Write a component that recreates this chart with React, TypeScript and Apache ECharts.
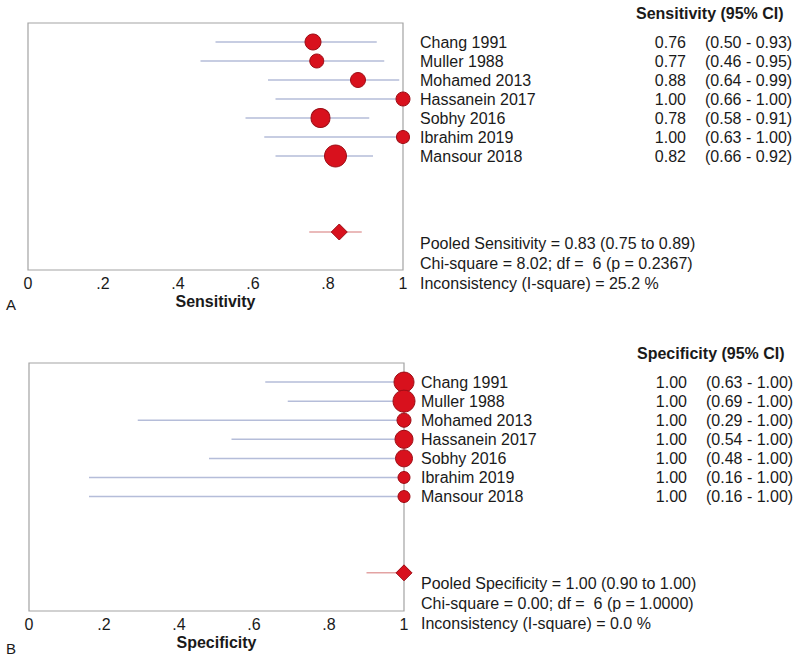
import React, { useEffect, useRef } from "react";
import * as echarts from "echarts";

const studies = ["Chang 1991", "Muller 1988", "Mohamed 2013", "Hassanein 2017", "Sobhy 2016", "Ibrahim 2019", "Mansour 2018"];

const sensEst = [0.76, 0.77, 0.88, 1.0, 0.78, 1.0, 0.82];
const sensLo = [0.5, 0.46, 0.64, 0.66, 0.58, 0.63, 0.66];
const sensHi = [0.93, 0.95, 0.99, 1.0, 0.91, 1.0, 0.92];
const sensWeight = [64, 49, 56, 49, 90, 42, 121];
const sensPooled = [0.83, 0.75, 0.89];
const sensHeader = "Sensitivity (95% CI)";
const sensStats = [
  "Pooled Sensitivity = 0.83 (0.75 to 0.89)",
  "Chi-square = 8.02; df =  6 (p = 0.2367)",
  "Inconsistency (I-square) = 25.2 %",
];

const specEst = [1.0, 1.0, 1.0, 1.0, 1.0, 1.0, 1.0];
const specLo = [0.63, 0.69, 0.29, 0.54, 0.48, 0.16, 0.16];
const specHi = [1.0, 1.0, 1.0, 1.0, 1.0, 1.0, 1.0];
const specWeight = [100, 121, 49, 81, 72, 36, 36];
const specPooled = [1.0, 0.9, 1.0];
const specHeader = "Specificity (95% CI)";
const specStats = [
  "Pooled Specificity = 1.00 (0.90 to 1.00)",
  "Chi-square = 0.00; df =  6 (p = 1.0000)",
  "Inconsistency (I-square) = 0.0 %",
];

const xTicks = [0, 0.2, 0.4, 0.6, 0.8, 1];
const pooledRow = 10;

const FONT = "'Liberation Sans', Arial, Helvetica, sans-serif";
const RED = "#d8111d";
const RED_BORDER = "#9c0d15";
const CI_COLOR = "#b5bdd9";
const POOL_CI = "#e3a3a3";
const TEXT = "#1a1a1a";

function txt(x: number, y: number, text: string, align: string, bold = false) {
  return {
    type: "text",
    x,
    y,
    style: {
      text,
      fill: TEXT,
      font: `${bold ? "bold " : ""}16px ${FONT}`,
      fontSize: 16,
      fontFamily: FONT,
      fontWeight: bold ? "bold" : "normal",
      align,
      textAlign: align,
      verticalAlign: "middle",
      textVerticalAlign: "middle",
    },
  };
}

function panelSeries(
  gi: number,
  est: number[],
  lo: number[],
  hi: number[],
  weight: number[],
  pooled: number[],
  header: string,
  stats: string[]
) {
  const ciData = lo.map((l, i) => [l, hi[i], i]);
  return [
    {
      type: "custom",
      xAxisIndex: gi,
      yAxisIndex: gi,
      clip: false,
      encode: { x: [0, 1], y: 2 },
      data: ciData,
      renderItem: (params: any, api: any) => {
        const a = api.coord([api.value(0), api.value(2)]);
        const b = api.coord([api.value(1), api.value(2)]);
        return {
          type: "line",
          shape: { x1: a[0], y1: a[1], x2: b[0], y2: b[1] },
          style: { stroke: CI_COLOR, lineWidth: 1.5 },
        };
      },
      z: 1,
    },
    {
      type: "custom",
      xAxisIndex: gi,
      yAxisIndex: gi,
      clip: false,
      encode: { x: [0, 1], y: 2 },
      data: [[pooled[1], pooled[2], pooledRow]],
      renderItem: (params: any, api: any) => {
        const a = api.coord([api.value(0), api.value(2)]);
        const b = api.coord([api.value(1), api.value(2)]);
        return {
          type: "line",
          shape: { x1: a[0], y1: a[1], x2: b[0], y2: b[1] },
          style: { stroke: POOL_CI, lineWidth: 1.5 },
        };
      },
      z: 1,
    },
    {
      type: "scatter",
      xAxisIndex: gi,
      yAxisIndex: gi,
      clip: false,
      data: est.map((e, i) => [e, i, weight[i]]),
      symbol: "circle",
      symbolSize: (v: number[]) => 2 * Math.sqrt(v[2]),
      itemStyle: { color: RED, borderColor: RED_BORDER, borderWidth: 1, opacity: 1 },
      z: 3,
    },
    {
      type: "scatter",
      xAxisIndex: gi,
      yAxisIndex: gi,
      clip: false,
      data: [[pooled[0], pooledRow]],
      symbol: "diamond",
      symbolSize: [16, 16],
      itemStyle: { color: RED, borderColor: RED_BORDER, borderWidth: 1, opacity: 1 },
      z: 3,
    },
    {
      type: "custom",
      xAxisIndex: gi,
      yAxisIndex: gi,
      clip: false,
      encode: { y: 0 },
      data: studies.map((s, i) => [i]),
      renderItem: (params: any, api: any) => {
        const i = api.value(0);
        const p = api.coord([1, i]);
        const x0 = p[0];
        return {
          type: "group",
          children: [
            txt(x0 + 17, p[1], studies[i], "left"),
            txt(x0 + 283, p[1], est[i].toFixed(2), "right"),
            txt(x0 + 302, p[1], `(${lo[i].toFixed(2)} - ${hi[i].toFixed(2)})`, "left"),
          ],
        };
      },
    },
    {
      type: "custom",
      xAxisIndex: gi,
      yAxisIndex: gi,
      clip: false,
      encode: { y: 0 },
      data: [[-1.5]],
      renderItem: (params: any, api: any) => {
        const p = api.coord([1, api.value(0)]);
        return txt(p[0] + 233, p[1], header, "left", true);
      },
    },
    {
      type: "custom",
      xAxisIndex: gi,
      yAxisIndex: gi,
      clip: false,
      encode: { y: 0 },
      data: [[pooledRow]],
      renderItem: (params: any, api: any) => {
        const p = api.coord([1, api.value(0)]);
        return {
          type: "group",
          children: stats.map((s, k) => txt(p[0] + 17, p[1] + 11 + k * 20, s, "left")),
        };
      },
    },
  ];
}

function xAxisFor(gi: number, name: string) {
  return {
    type: "value",
    gridIndex: gi,
    min: 0,
    max: 1,
    interval: 0.2,
    name,
    nameLocation: "middle",
    nameGap: 23,
    nameTextStyle: { fontFamily: FONT, fontSize: 16, fontWeight: "bold", color: TEXT, verticalAlign: "top" },
    axisLine: { show: false },
    axisTick: { show: false },
    splitLine: { show: false },
    axisLabel: {
      margin: 5,
      fontFamily: FONT,
      fontSize: 16,
      color: TEXT,
      formatter: (v: number) => {
        const t = xTicks.find((k) => Math.abs(k - v) < 1e-6);
        if (t === undefined) return "";
        if (t === 0) return "0";
        if (t === 1) return "1";
        return t.toFixed(1).replace(/^0/, "");
      },
    },
  };
}

function yAxisFor(gi: number) {
  return { type: "value", gridIndex: gi, min: -1, max: 12, inverse: true, show: false };
}

export default function App() {
  const ref = useRef<HTMLDivElement>(null);
  useEffect(() => {
    if (!ref.current) return;
    const chart = echarts.init(ref.current, undefined, { renderer: "svg" });
    chart.setOption({
      animation: false,
      backgroundColor: "#ffffff",
      grid: [
        { left: 28, width: 375, top: 23, height: 247, show: true, borderColor: "#a3a3a3", borderWidth: 1.2, backgroundColor: "transparent" },
        { left: 29, width: 375, top: 363, height: 248, show: true, borderColor: "#a3a3a3", borderWidth: 1.2, backgroundColor: "transparent" },
      ],
      xAxis: [xAxisFor(0, "Sensitivity"), xAxisFor(1, "Specificity")],
      yAxis: [yAxisFor(0), yAxisFor(1)],
      graphic: [
        { type: "text", x: 6, y: 304, style: { text: "A", fill: TEXT, font: `15px ${FONT}`, textVerticalAlign: "middle", verticalAlign: "middle" } },
        { type: "text", x: 6, y: 648, style: { text: "B", fill: TEXT, font: `15px ${FONT}`, textVerticalAlign: "middle", verticalAlign: "middle" } },
      ],
      series: [
        ...panelSeries(0, sensEst, sensLo, sensHi, sensWeight, sensPooled, sensHeader, sensStats),
        ...panelSeries(1, specEst, specLo, specHi, specWeight, specPooled, specHeader, specStats),
      ],
    });
    return () => chart.dispose();
  }, []);
  return <div ref={ref} style={{ position: "fixed", left: 0, top: 0, width: 800, height: 663 }} />;
}
